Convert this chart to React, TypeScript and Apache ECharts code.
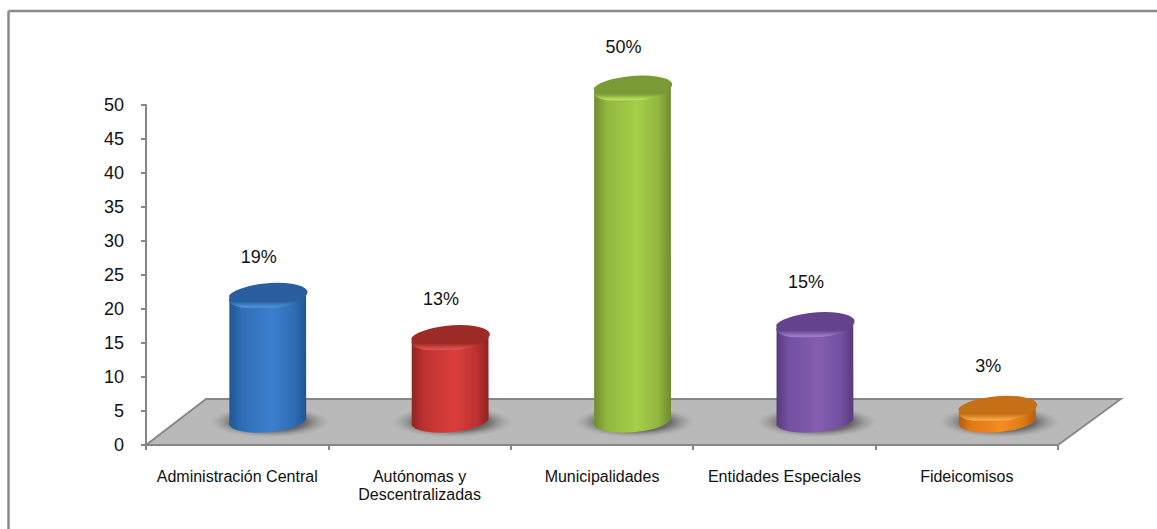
import React, { useEffect, useRef } from "react";
import * as echarts from "echarts";

const categories = ["Administración Central", "Autónomas y\nDescentralizadas", "Municipalidades", "Entidades Especiales", "Fideicomisos"];
const values = [18.2, 12.0, 48.7, 13.9, 1.6];
const percentLabels = ["19%", "13%", "50%", "15%", "3%"];
const yMax = 50;
const yStep = 5;

// Styling, indexed like the categories: [edge, shoulder, centre, top face, rim highlight]
const palettes = [
  ["#1f5595", "#2f6db5", "#3b80cf", "#2a5e9e", "#4f93dd"],
  ["#8f2220", "#bd3230", "#da3f3c", "#9c2a27", "#e25350"],
  ["#6f8a2e", "#91b53e", "#a5d049", "#7a9a36", "#bde25c"],
  ["#573a7c", "#7350a0", "#865db2", "#64428c", "#a27fcb"],
  ["#b65c0e", "#dd7a18", "#f68b20", "#c56f17", "#fbab45"],
];
const labelLift = [38, 38, 41, 42, 42];

const FONT = '"Liberation Sans", Arial, sans-serif';
const AXIS = "#868686";
const DEPTH_X = 30.5;
const DEPTH_Y = 26;
const RX = 38.5;
const RY = 11.5;
const TILT = -5;

function ellipsePath(cx: number, cy: number, rx: number, ry: number, deg: number) {
  const r = (deg * Math.PI) / 180;
  const dx = rx * Math.cos(r);
  const dy = rx * Math.sin(r);
  return `M${cx - dx} ${cy - dy}A${rx} ${ry} ${deg} 1 0 ${cx + dx} ${cy + dy}A${rx} ${ry} ${deg} 1 0 ${cx - dx} ${cy - dy}Z`;
}

function bodyPath(cx: number, topY: number, baseY: number, rx: number, ry: number, deg: number) {
  const r = (deg * Math.PI) / 180;
  const dx = rx * Math.cos(r);
  const dy = rx * Math.sin(r);
  return `M${cx - dx} ${topY - dy}L${cx - dx} ${baseY - dy}A${rx} ${ry} ${deg} 0 0 ${cx + dx} ${baseY + dy}L${cx + dx} ${topY + dy}A${rx} ${ry} ${deg} 0 1 ${cx - dx} ${topY - dy}Z`;
}

function renderFloor(_p: any, api: any) {
  const [x0, y0] = api.coord([0, 0]);
  const band = api.size([1, 0])[0];
  const left = x0 - band / 2;
  const right = left + band * categories.length;
  const backY = y0 - 46;
  const pts = [
    [left, y0],
    [left + 60, backY],
    [right + 63, backY],
    [right, y0],
  ];
  return {
    type: "group",
    children: [
      { type: "polygon", shape: { points: pts }, style: { fill: "#b9b9b9", stroke: "none" } },
      {
        type: "polyline",
        shape: { points: [pts[0], pts[1], pts[2], pts[3]] },
        style: { fill: "none", stroke: AXIS, lineWidth: 1.8 },
      },
    ],
  };
}

function renderCylinder(p: any, api: any) {
  const i = p.dataIndex;
  const [x, y0] = api.coord([api.value(0), 0]);
  const yV = api.coord([api.value(0), api.value(1)])[1];
  const cx = x + DEPTH_X;
  const baseY = y0 - DEPTH_Y;
  const topY = yV - DEPTH_Y;
  const [edge, shoulder, centre, face, rim] = palettes[i];
  const body = new echarts.graphic.LinearGradient(0, 0, 1, 0, [
    { offset: 0, color: edge },
    { offset: 0.16, color: shoulder },
    { offset: 0.55, color: centre },
    { offset: 0.84, color: shoulder },
    { offset: 1, color: edge },
  ]);
  const top = new echarts.graphic.LinearGradient(0, 0, 0, 1, [
    { offset: 0, color: face },
    { offset: 0.7, color: face },
    { offset: 0.93, color: rim },
    { offset: 1, color: shoulder },
  ]);
  const shadow = new echarts.graphic.RadialGradient(0.5, 0.5, 0.5, [
    { offset: 0, color: "rgba(45,45,45,0.9)" },
    { offset: 0.6, color: "rgba(60,60,60,0.62)" },
    { offset: 1, color: "rgba(140,140,140,0)" },
  ]);
  return {
    type: "group",
    children: [
      { type: "path", shape: { pathData: ellipsePath(cx + 2, baseY + 3, RX + 22, RY + 4, 0) }, style: { fill: shadow } },
      { type: "path", shape: { pathData: bodyPath(cx, topY, baseY, RX, RY, TILT) }, style: { fill: body } },
      { type: "path", shape: { pathData: ellipsePath(cx, topY, RX, RY, TILT) }, style: { fill: top } },
      {
        type: "text",
        style: {
          text: percentLabels[i],
          x: cx - 9,
          y: topY - labelLift[i],
          align: "center",
          verticalAlign: "middle",
          fill: "#111",
          font: `18px ${FONT}`,
        },
      },
    ],
  };
}

export default function App() {
  const ref = useRef<HTMLDivElement>(null);
  useEffect(() => {
    document.body.style.margin = "0";
    const chart = echarts.init(ref.current!, null, { renderer: "svg" });
    chart.setOption({
      animation: false,
      backgroundColor: "#ffffff",
      grid: { left: 146, top: 105, width: 912, height: 340, containLabel: false },
      xAxis: {
        type: "category",
        data: categories,
        z: 4,
        axisLine: { lineStyle: { color: AXIS, width: 2 } },
        axisTick: { show: true, alignWithLabel: false, length: 5, lineStyle: { color: AXIS, width: 2 } },
        axisLabel: { interval: 0, color: "#111", fontFamily: FONT, fontSize: 16, lineHeight: 18, margin: 22, verticalAlign: "top" },
      },
      yAxis: {
        type: "value",
        min: 0,
        max: yMax,
        interval: yStep,
        z: 4,
        axisLine: { show: true, lineStyle: { color: AXIS, width: 2 } },
        axisTick: { show: true, length: 5, lineStyle: { color: AXIS, width: 2 } },
        axisLabel: { color: "#111", fontFamily: FONT, fontSize: 18, margin: 22 },
        splitLine: { show: false },
      },
      graphic: [
        { type: "line", z: 10, shape: { x1: 8.5, y1: 11, x2: 1157, y2: 11 }, style: { stroke: "#8a8a8a", lineWidth: 2.5 } },
        { type: "line", z: 10, shape: { x1: 8.5, y1: 11, x2: 8.5, y2: 529 }, style: { stroke: "#8a8a8a", lineWidth: 2.5 } },
      ],
      series: [
        { type: "custom", z: 1, silent: true, clip: false, renderItem: renderFloor, data: [[0, 0]], encode: { x: 0, y: 1 } },
        {
          type: "custom",
          z: 5,
          silent: true,
          clip: false,
          renderItem: renderCylinder,
          data: values.map((v, i) => [i, v]),
          encode: { x: 0, y: 1 },
        },
      ],
    });
    return () => chart.dispose();
  }, []);
  return <div ref={ref} style={{ width: 1157, height: 529 }} />;
}
